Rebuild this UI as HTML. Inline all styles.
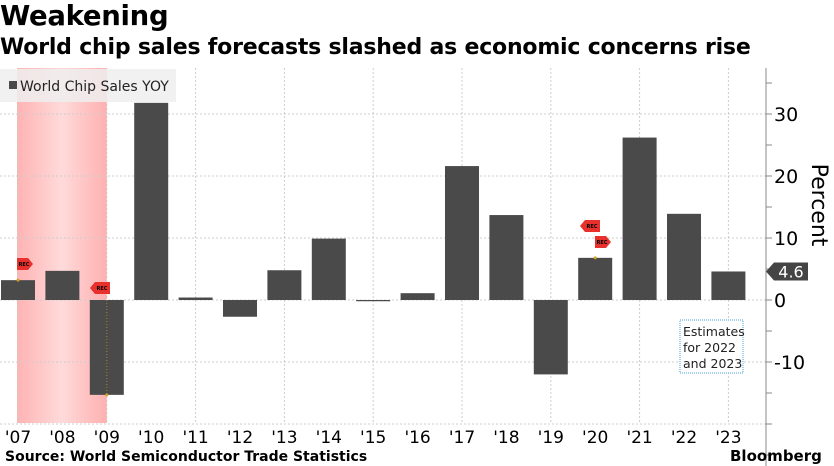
<!DOCTYPE html>
<html><head><meta charset="utf-8"><style>
body{margin:0;width:834px;height:466px;background:#fff;overflow:hidden;position:relative;font-family:"DejaVu Sans","Liberation Sans",sans-serif}
.t{position:absolute;left:0;white-space:nowrap;color:#000;font-weight:bold}
</style></head><body>
<div class="t" style="top:0px;font-size:27.5px;letter-spacing:-0.3px">Weakening</div>
<div class="t" style="top:35px;font-size:22px;letter-spacing:-0.2px">World chip sales forecasts slashed as economic concerns rise</div>
<svg id="c" width="834" height="466" style="position:absolute;left:0;top:0"></svg>
<div class="t" style="top:449px;left:5px;font-size:14px">Source: World Semiconductor Trade Statistics</div>
<div class="t" style="top:447px;left:730px;font-size:15px">Bloomberg</div>
<script>
const years=["'07","'08","'09","'10","'11","'12","'13","'14","'15","'16","'17","'18","'19","'20","'21","'22","'23"];
const values=[3.2,4.7,-15.3,31.8,0.4,-2.7,4.8,9.9,-0.2,1.1,21.6,13.7,-12.0,6.8,26.2,13.9,4.6];
const yTicks=[-10,0,10,20,30];
const NS="http://www.w3.org/2000/svg";
const svg=document.getElementById('c');
const x=i=>18+i*44.4;
const y=v=>300-v*6.2;
function mk(t,a,p){const e=document.createElementNS(NS,t);for(const k in a)e.setAttribute(k,a[k]);(p||svg).appendChild(e);return e;}
const defs=mk('defs',{});
const g=mk('linearGradient',{id:'rg',x1:0,x2:1,y1:0,y2:0},defs);
mk('stop',{offset:0,'stop-color':'#ffb3b3'},g);mk('stop',{offset:0.5,'stop-color':'#ffdada'},g);mk('stop',{offset:1,'stop-color':'#ffb0b0'},g);
const sh=mk('rect',{x:x(0)-1,y:68,width:x(2)-x(0)+1,height:355,fill:'url(#rg)'});

for(let i=0;i<years.length;i+=2){mk('line',{x1:x(i),x2:x(i),y1:68,y2:423,stroke:'#ccc','stroke-dasharray':'2,2'});}
[-20,-10,0,10,20,30].forEach(v=>mk('line',{x1:0,x2:766,y1:y(v),y2:y(v),stroke:'#ccc','stroke-dasharray':'2,2'}));
values.forEach((v,i)=>{
 const r=mk('rect',{x:x(i)-17,y:Math.min(y(v),y(0)),width:34,height:Math.abs(y(v)-y(0)),fill:'#4a4a4a'});
 
 
 const l=mk('text',{x:x(i),y:443,'font-size':17,'text-anchor':'middle',fill:'#000'});l.textContent=years[i];
 
 
});
function rec(cx,cy,left){const gg=mk('g',{});
 
 const p=left?`M${cx} ${cy-6}h15v12h-15l-5-6z`:`M${cx} ${cy-6}h11l5 6-5 6h-11z`;
 mk('path',{d:p,fill:'#e8302d'},gg);const t=mk('text',{x:cx+7,y:cy+2,'font-size':5,'font-weight':'bold','text-anchor':'middle'},gg);t.textContent='REC';}
rec(17,264,false);mk('circle',{cx:x(0),cy:y(values[0]),r:1.5,fill:'#d4a020'});
rec(95,288,true);mk('circle',{cx:x(2),cy:y(values[2]),r:1.5,fill:'#d4a020'});
mk('line',{x1:x(2),x2:x(2),y1:300,y2:y(values[2]),stroke:'#b08030','stroke-dasharray':'1,2'});
rec(585,226,true);rec(595,242,false);mk('circle',{cx:x(13),cy:y(values[13]),r:1.5,fill:'#d4a020'});
mk('line',{x1:766,x2:766,y1:68,y2:466,stroke:'#888'});
for(let v=-25;v<=35;v+=5){if(y(v)>=68)mk('line',{x1:766,x2:772,y1:y(v),y2:y(v),stroke:'#888'});}
yTicks.forEach(v=>{const t=mk('text',{x:774,y:y(v)+7,'font-size':19,fill:'#000'});t.textContent=(v<0?'-':'')+Math.abs(v);
 });
const yt=mk('text',{x:0,y:0,'font-size':22,transform:'translate(812,205) rotate(90)','text-anchor':'middle'});yt.textContent='Percent';

const lv=values[values.length-1];
mk('path',{d:`M766 ${y(lv)} l8 -9 h34 v18 h-34z`,fill:'#444'});
const lt=mk('text',{x:791,y:y(lv)+6,'font-size':16,fill:'#fff','text-anchor':'middle'});lt.textContent=lv.toFixed(1);

const lg=mk('g',{});
mk('rect',{x:0,y:69,width:176,height:33,fill:'#eee','fill-opacity':0.85},lg);
mk('rect',{x:9,y:81,width:8,height:8,fill:'#4a4a4a'},lg);
const ltx=mk('text',{x:20,y:91,'font-size':14,fill:'#222'},lg);ltx.textContent='World Chip Sales YOY';
const an=mk('g',{});
mk('rect',{x:680,y:320,width:63,height:53,fill:'#fff',stroke:'#4aa0e0','stroke-dasharray':'1,1'},an);
['Estimates','for 2022','and 2023'].forEach((s,i)=>{const t=mk('text',{x:683,y:336+i*16,'font-size':12.5,fill:'#222'},an);t.textContent=s;});
</script>
</body></html>
